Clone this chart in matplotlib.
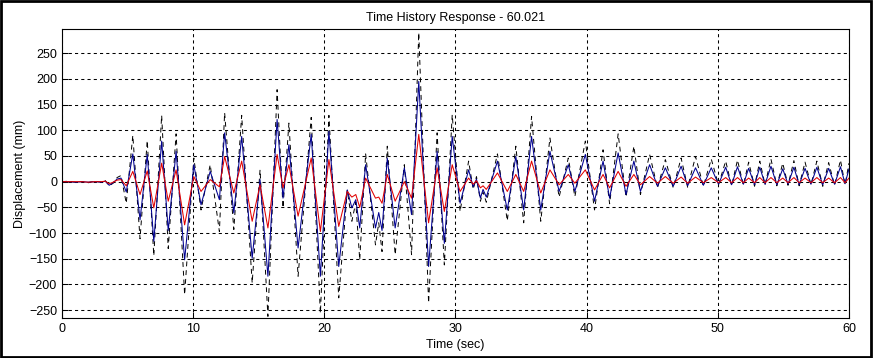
import numpy as np
import matplotlib
matplotlib.use('Agg')
import matplotlib.pyplot as plt
from matplotlib.patches import Rectangle

# extrema (time in sec, displacement in mm)
t_pts = [0.0, 0.5, 1.0, 1.5, 2.0, 2.5, 3.0, 3.3, 3.6, 3.9, 4.2, 4.5,
         4.9, 5.4, 5.95, 6.5, 7.0, 7.6, 8.1, 8.7, 9.35, 10.05,
         10.6, 11.3, 12.0, 12.4, 13.1, 13.7, 14.5, 15.1, 15.7, 16.4,
         16.85, 17.3, 18.0, 19.0, 19.7, 20.35, 21.1, 21.75, 22.1, 22.4,
         22.7, 23.15, 23.9, 24.15, 24.4, 24.8, 25.4, 26.1, 26.65, 27.2,
         27.95, 28.6, 29.15, 29.75, 30.35, 31.0, 31.35, 31.6, 31.9, 32.1,
         32.35, 33.2, 33.95, 34.6, 35.2, 35.8, 36.5, 37.2, 37.9, 38.6,
         39.1, 39.9, 40.6, 41.25, 41.75, 42.4, 43.0, 43.6, 44.1, 44.8,
         45.4, 46.0, 46.6, 47.2, 47.7, 48.3, 48.9, 49.5, 50.05, 50.6,
         51.05, 51.5, 51.95, 52.35, 52.8, 53.2, 53.6, 54.05, 54.5, 54.95,
         55.35, 55.8, 56.2, 56.65, 57.1, 57.55, 58.0, 58.45, 58.9, 59.35,
         59.7, 60.0]

dash_pts = [0, 1, -1, 0, -2, 1, -1, 2, -8, -3, 8, 12,
            -42, 90, -111, 80, -144, 129, -130, 93, -220, 46,
            -55, 33, -97, 134, -93, 129, -197, 23, -262, 179,
            -51, 114, -184, 125, -256, 129, -226, -17, -77, -40,
            -152, 54, -123, -80, -136, 69, -142, 33, -142, 290,
            -236, 95, -162, 130, -58, 40, -15, 10, -38, -20,
            -40, 54, -76, 69, -80, 127, -77, 85, -30, 46,
            -29, 79, -55, 62, -43, 93, -30, 69, -25, 53,
            -12, 43, -12, 46, -11, 49, -9, 44, -6, 40,
            -8, 42, -7, 38, -9, 40, -6, 44, -8, 36,
            -7, 41, -8, 38, -6, 40, -9, 37, -7, 42,
            -6, 36]

blue_pts = [0, 0, -1, 0, -1, 0, -1, 1, -7, -2, 5, 7,
            -20, 54, -74, 53, -116, 79, -95, 59, -152, 33,
            -45, 20, -35, 95, -61, 88, -149, 4, -184, 121,
            -32, 72, -129, 92, -184, 98, -165, -16, -51, -35,
            -90, 33, -90, -60, -95, 46, -90, 27, -64, 195,
            -165, 59, -120, 88, -42, 23, -10, 5, -32, -15,
            -30, 40, -55, 49, -55, 88, -55, 59, -19, 33,
            -19, 53, -38, 40, -32, 56, -25, 40, -19, 33,
            -9, 27, -9, 30, -8, 27, -7, 27, -5, 28,
            -6, 29, -5, 26, -6, 28, -5, 30, -6, 25,
            -5, 28, -6, 26, -5, 28, -6, 26, -5, 29,
            -4, 25]

red_pts = [0, 0, 0, 0, -1, 0, 0, 1, -4, -1, 3, 4,
           -8, 20, -25, 21, -51, 36, -38, 23, -84, 10,
           -19, 4, -10, 49, -22, 40, -77, -6, -90, 53,
           -12, 33, -67, 46, -97, 43, -87, -19, -30, -25,
           -50, 7, -32, -30, -42, 14, -38, 0, -32, 92,
           -80, 27, -58, 33, -19, 7, -5, 2, -12, -8,
           -15, 17, -19, 14, -19, 40, -22, 23, -6, 14,
           -3, 23, -16, 14, -12, 20, -9, 14, -6, 10,
           -3, 10, -3, 9, -3, 9, -2, 8, -2, 8,
           -2, 8, -2, 7, -2, 8, -2, 8, -2, 7,
           -2, 8, -2, 7, -2, 8, -2, 7, -2, 8,
           -2, 7]

x_ticks = [0, 10, 20, 30, 40, 50, 60]
y_ticks = [-250, -200, -150, -100, -50, 0, 50, 100, 150, 200, 250]

plt.rcParams['font.family'] = ['Liberation Sans', 'DejaVu Sans']
plt.rcParams['font.size'] = 9

fig = plt.figure(figsize=(8.73, 3.58), dpi=100, facecolor='white')
fig.patches.append(Rectangle((0.001, 0.002), 0.997, 0.994, transform=fig.transFigure,
                             fill=False, edgecolor='black', linewidth=2))
ax = fig.add_axes([0.071, 0.112, 0.9015, 0.807])

ax.plot(t_pts, dash_pts, color='black', linewidth=0.7, linestyle=(0, (5, 4)))
ax.plot(t_pts, blue_pts, color='#000090', linewidth=0.75)
ax.plot(t_pts, red_pts, color='#e00000', linewidth=0.75)

ax.set_xlim(0, 60)
ax.set_ylim(-265, 297)
ax.set_xticks(x_ticks)
ax.set_yticks(y_ticks)
ax.grid(True, color='black', linestyle=(0, (3, 3)), linewidth=0.75)
ax.tick_params(direction='in', length=4, width=0.75, colors='black', labelsize=9)
for sp in ax.spines.values():
    sp.set_linewidth(0.8)

ax.set_title('Time History Response - 60.021', fontsize=9, pad=6)
ax.set_xlabel('Time (sec)', fontsize=9, labelpad=3)
ax.set_ylabel('Displacement (mm)', fontsize=9, labelpad=2)

fig.savefig('out.png', dpi=100, facecolor='white')
